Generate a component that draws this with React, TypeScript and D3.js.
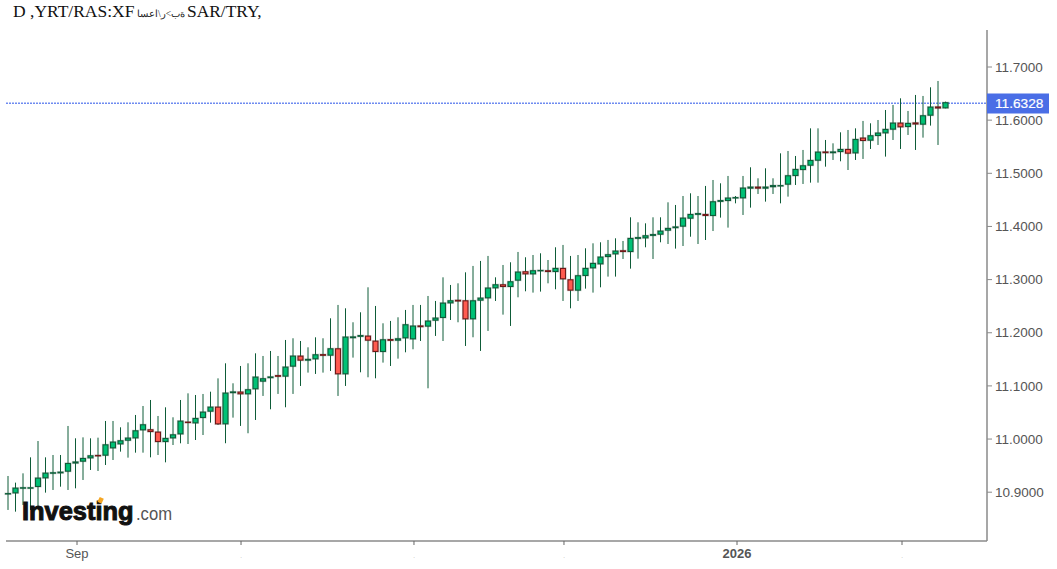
import React from "react";
import * as d3 from "d3";

const opens = [
  10.8967, 10.8988, 10.9076, 10.9076, 10.9108, 10.9271, 10.9358, 10.9365, 10.9396, 10.955,
  10.9584, 10.9647, 10.9691, 10.9697, 10.9835, 10.991, 10.9979, 11.0023, 11.0174, 11.0174,
  11.013, 10.9954, 11.0023, 11.0098, 11.0318, 11.0305, 11.0406, 11.0525, 11.06, 11.0287,
  11.0874, 11.0883, 11.0852, 11.0946, 11.109, 11.1156, 11.1193, 11.1184, 11.1372, 11.156,
  11.1485, 11.151, 11.1588, 11.1579, 11.1698, 11.1228, 11.1908, 11.1933, 11.1936, 11.1842,
  11.1648, 11.1871, 11.1861, 11.1905, 11.1886, 11.2128, 11.2125, 11.2237, 11.2288, 11.2563,
  11.261, 11.2601, 11.2263, 11.2614, 11.2658, 11.2846, 11.2902, 11.2871, 11.299, 11.3147,
  11.3109, 11.3166, 11.3166, 11.3153, 11.321, 11.2996, 11.2802, 11.3078, 11.3222, 11.3297,
  11.3435, 11.3485, 11.3542, 11.3529, 11.3777, 11.3786, 11.3833, 11.3855, 11.3931, 11.3978,
  11.4006, 11.4156, 11.4229, 11.4225, 11.4207, 11.4473, 11.4489, 11.4536, 11.4539, 11.4721,
  11.474, 11.4721, 11.4749, 11.4762, 11.4796, 11.4959, 11.5072, 11.5153, 11.5247, 11.5401,
  11.5389, 11.541, 11.5448, 11.5385, 11.5662, 11.5624, 11.5712, 11.5762, 11.5831, 11.5944,
  11.5881, 11.5947, 11.5925, 11.6094, 11.6248, 11.6232,
];

const closes = [
  10.8973, 10.9076, 10.9083, 10.9083, 10.9264, 10.9358, 10.9365, 10.9377, 10.954, 10.9568,
  10.9634, 10.9684, 10.9684, 10.9891, 10.9942, 10.9967, 11.0017, 11.0155, 11.0268, 11.0142,
  10.9954, 11.0011, 11.0079, 11.0337, 11.0311, 11.0387, 11.0506, 11.06, 11.0286, 11.0864,
  11.0886, 11.0852, 11.0927, 11.1165, 11.1134, 11.1168, 11.1181, 11.1353, 11.156, 11.1485,
  11.1498, 11.1585, 11.1576, 11.1698, 11.1228, 11.1918, 11.1921, 11.1946, 11.1861, 11.1648,
  11.1867, 11.1858, 11.1886, 11.215, 11.2125, 11.2115, 11.2219, 11.2275, 11.2557, 11.2601,
  11.2598, 11.2262, 11.2601, 11.2651, 11.284, 11.2902, 11.2871, 11.2959, 11.3141, 11.3109,
  11.3166, 11.3172, 11.3153, 11.321, 11.3015, 11.2802, 11.3072, 11.321, 11.3304, 11.3423,
  11.3467, 11.3536, 11.3529, 11.3774, 11.3789, 11.3824, 11.3846, 11.3912, 11.3962, 11.399,
  11.4156, 11.4225, 11.4241, 11.4207, 11.4464, 11.4486, 11.4533, 11.4542, 11.4721, 11.474,
  11.4721, 11.474, 11.4768, 11.4768, 11.4953, 11.5072, 11.5141, 11.5241, 11.5398, 11.5389,
  11.5401, 11.5448, 11.5379, 11.5636, 11.5618, 11.5706, 11.5756, 11.5825, 11.5944, 11.5875,
  11.5938, 11.5928, 11.6082, 11.6245, 11.6229, 11.6328,
];

const highs = [
  10.9305, 10.918, 10.9355, 10.9656, 10.9963, 10.9656, 10.97, 10.97, 11.0246, 11.0014,
  11.0032, 11.0014, 11.0026, 11.034, 11.034, 11.0221, 11.0315, 11.0453, 11.0622, 11.0735,
  11.0434, 11.0597, 11.0409, 11.0735, 11.086, 11.0829, 11.0848, 11.0891, 11.1142, 11.1425,
  11.1049, 11.1375, 11.1425, 11.1613, 11.1563, 11.1657, 11.1563, 11.1864, 11.1896, 11.1845,
  11.1726, 11.1914, 11.1896, 11.2272, 11.2523, 11.246, 11.2197, 11.2385, 11.2855, 11.2504,
  11.2178, 11.2222, 11.2291, 11.2429, 11.2523, 11.2523, 11.2692, 11.2598, 11.3043, 11.2899,
  11.293, 11.3137, 11.3257, 11.3351, 11.3445, 11.3043, 11.3275, 11.3326, 11.352, 11.342,
  11.3463, 11.3495, 11.3369, 11.3608, 11.3652, 11.3445, 11.3463, 11.3589, 11.3683, 11.3702,
  11.3746, 11.3777, 11.3727, 11.4172, 11.4078, 11.4059, 11.4172, 11.4172, 11.4454, 11.4404,
  11.4573, 11.4624, 11.4573, 11.4762, 11.4874, 11.4812, 11.495, 11.4573, 11.495, 11.5113,
  11.4906, 11.5094, 11.4906, 11.5376, 11.542, 11.5326, 11.5439, 11.5846, 11.5846, 11.5627,
  11.5564, 11.5771, 11.5815, 11.5846, 11.5985, 11.5941, 11.6003, 11.6191, 11.6286, 11.6411,
  11.6173, 11.6474, 11.6455, 11.6618, 11.6737, 11.6348,
];

const lows = [
  10.8666, 10.8634, 10.876, 10.8666, 10.8728, 10.8992, 10.9042, 10.9104, 10.9042, 10.9073,
  10.923, 10.9418, 10.9399, 10.9512, 10.9606, 10.9763, 10.965, 10.9744, 10.9744, 10.9656,
  10.97, 10.9562, 10.9888, 10.992, 10.9907, 10.9982, 11.0076, 11.0308, 11.0264, 10.9921,
  11.0403, 11.0247, 11.0109, 11.0359, 11.0811, 11.056, 11.0849, 11.0598, 11.0849, 11.0999,
  11.125, 11.1225, 11.125, 11.1281, 11.0811, 11.0999, 11.1532, 11.1256, 11.1162, 11.1143,
  11.1438, 11.1375, 11.1513, 11.1632, 11.1689, 11.1845, 11.0955, 11.194, 11.1845, 11.224,
  11.2197, 11.1751, 11.1915, 11.1658, 11.2034, 11.2598, 11.2341, 11.2128, 11.2667, 11.278,
  11.2755, 11.2774, 11.293, 11.2818, 11.2598, 11.246, 11.2598, 11.283, 11.2755, 11.2855,
  11.3056, 11.3056, 11.3388, 11.3206, 11.3394, 11.3608, 11.3388, 11.3702, 11.367, 11.3583,
  11.3632, 11.3807, 11.367, 11.3745, 11.3914, 11.4166, 11.3978, 11.4435, 11.4216, 11.4354,
  11.4611, 11.4467, 11.4611, 11.4435, 11.4561, 11.478, 11.4799, 11.4824, 11.4824, 11.5125,
  11.5251, 11.5226, 11.5062, 11.5251, 11.527, 11.5458, 11.5533, 11.5314, 11.5627, 11.5458,
  11.5721, 11.5439, 11.5671, 11.5897, 11.5533, 11.6223,
];

const priceTicks = [10.9, 11.0, 11.1, 11.2, 11.3, 11.4, 11.5, 11.6, 11.7];
const timeTickPositions = [9.2, 31.07, 54.13, 74.13, 97.2, 119.2];
const timeTickLabels = ["Sep", ".", ".", ".", "2026", "."];
const lastPrice = 11.6328;

const titleLeft = "D ,YRT/RAS:XF";
const titleArabic = "ةب>ر\\اعسا";
const titleRight = "SAR/TRY,";

const WIDTH = 1057;
const HEIGHT = 569;
const SANS = "'Liberation Sans', Arial, sans-serif";
const SERIF = "'Liberation Serif', 'Times New Roman', serif";
const UP_FILL = "#00c176";
const DOWN_FILL = "#ff5b50";
const UP_EDGE = "#0e5c38";
const DOWN_EDGE = "#701818";
const WICK = "#0e5c38";

export default function App() {
  const y = d3.scaleLinear().domain([10.9, 11.7]).range([492.2, 67]);
  const x = d3.scaleLinear().domain([0, 125]).range([8, 945.5]);
  const plotLeft = 6;
  const plotRight = 987;
  const plotTop = 30;
  const plotBottom = 541;
  const lastY = Math.round(y(lastPrice)) + 0.5;

  return (
    <svg
      width={WIDTH}
      height={HEIGHT}
      viewBox={`0 0 ${WIDTH} ${HEIGHT}`}
      style={{ position: "absolute", left: 0, top: 0, background: "#fff" }}
    >
      <text x={13} y={16.5} fontFamily={SERIF} fontSize={17.5} fill="#111" style={{ unicodeBidi: "bidi-override", direction: "ltr" }}>
        {titleLeft}
      </text>
      <text x={137} y={16.5} fontFamily={SERIF} fontSize={9.5} fill="#222">
        {titleArabic}
      </text>
      <text x={187} y={16.5} fontFamily={SERIF} fontSize={17.4} fill="#111">
        {titleRight}
      </text>

      <line x1={plotRight} x2={plotRight} y1={plotTop} y2={plotBottom} stroke="#8a8a8a" strokeWidth={1.5} />
      <line x1={plotLeft} x2={plotRight} y1={plotBottom} y2={plotBottom} stroke="#8a8a8a" strokeWidth={1.5} />

      {priceTicks.map((t) => (
        <g key={t}>
          <line x1={plotRight} x2={plotRight + 5} y1={y(t)} y2={y(t)} stroke="#8a8a8a" />
          <text x={995} y={y(t) + 4.7} fontFamily={SANS} fontSize={13.5} fill="#555">
            {d3.format(".4f")(t)}
          </text>
        </g>
      ))}

      {timeTickPositions.map((p, i) => (
        <g key={p}>
          <line x1={x(p)} x2={x(p)} y1={plotBottom} y2={plotBottom + 4} stroke="#666" />
          <text
            x={x(p)}
            y={558}
            textAnchor="middle"
            fontFamily={SANS}
            fontSize={timeTickLabels[i] === "." ? 6 : 13}
            fontWeight={timeTickLabels[i] === "2026" ? "bold" : "normal"}
            fill={timeTickLabels[i] === "." ? "#999" : "#555"}
          >
            {timeTickLabels[i]}
          </text>
        </g>
      ))}

      <line
        x1={plotLeft}
        x2={plotRight}
        y1={lastY - 0.3}
        y2={lastY - 0.3}
        stroke="#6f8bf0"
        strokeWidth={1.4}
        strokeDasharray="2 1"
      />

      {opens.map((o, i) => {
        const c = closes[i];
        const up = c >= o;
        const top = y(Math.max(o, c));
        const bottom = y(Math.min(o, c));
        return (
          <g key={i}>
            <line x1={x(i)} x2={x(i)} y1={y(highs[i])} y2={y(lows[i])} stroke={WICK} strokeWidth={1} />
            <rect
              x={x(i) - 2.5}
              y={top}
              width={5}
              height={bottom - top}
              fill="none"
              stroke="rgba(70,85,75,0.25)"
              strokeWidth={2.2}
            />
            <rect
              x={x(i) - 2.5}
              y={top}
              width={5}
              height={bottom - top}
              fill={up ? UP_FILL : DOWN_FILL}
              stroke={up ? UP_EDGE : DOWN_EDGE}
              strokeWidth={1.1}
            />
          </g>
        );
      })}

      <rect x={987} y={lastY - 10} width={62} height={20} fill="#4a6ee6" />
      <text x={995} y={lastY + 4.9} fontFamily={SANS} fontSize={13.7} fontWeight={500} stroke="#fff" strokeWidth={0.2} fill="#fff">
        {d3.format(".4f")(lastPrice)}
      </text>

      <text x={22} y={520} fontFamily={SANS} fontSize={25.4} fontWeight="bold" fill="#111" stroke="#111" strokeWidth={1}>
        Investing
      </text>
      <text x={136} y={520} fontFamily={SANS} fontSize={19} fill="#555" textLength={36} lengthAdjust="spacingAndGlyphs">
        .com
      </text>
      <rect x={98.5} y={497.5} width={4.5} height={5.5} fill="#f5a623" transform="rotate(25 100.5 500)" />
    </svg>
  );
}
